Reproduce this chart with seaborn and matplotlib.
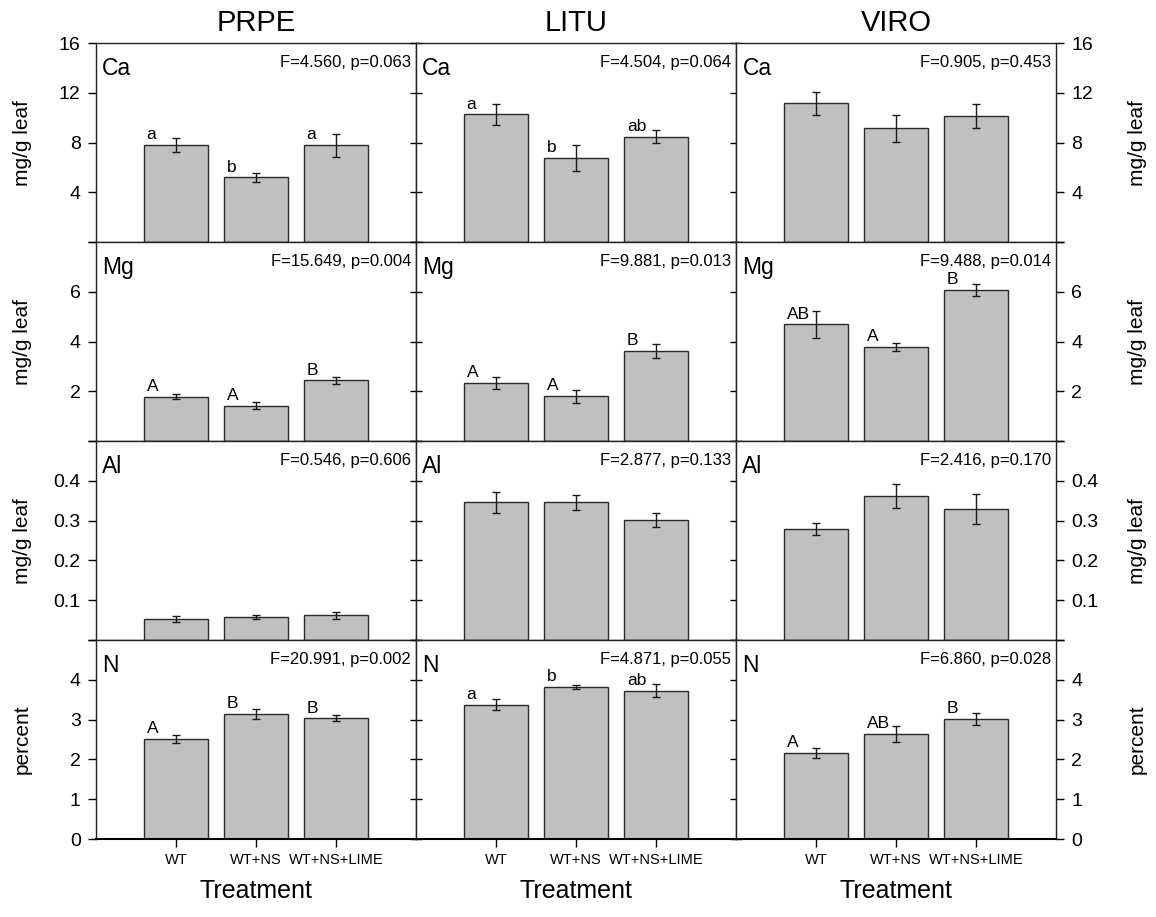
import numpy as np
import pandas as pd
import matplotlib
matplotlib.use("Agg")
import matplotlib.pyplot as plt
import seaborn as sns

sns.set_style("ticks")
plt.rcParams["font.family"] = ["Liberation Sans", "DejaVu Sans"]
plt.rcParams["text.color"] = "black"
plt.rcParams["axes.labelcolor"] = "black"
plt.rcParams["xtick.color"] = "black"
plt.rcParams["ytick.color"] = "black"

# --- data ---
species = ["PRPE", "LITU", "VIRO"]
treatments = ["WT", "WT+NS", "WT+NS+LIME"]
elements = ["Ca", "Mg", "Al", "N"]
units = ["mg/g leaf", "mg/g leaf", "mg/g leaf", "percent"]

ca_mean = [[7.80, 5.20, 7.80], [10.26, 6.76, 8.48], [11.15, 9.14, 10.13]]
ca_se = [[0.55, 0.36, 0.92], [0.83, 1.03, 0.52], [0.91, 1.06, 0.96]]
mg_mean = [[1.79, 1.43, 2.44], [2.34, 1.81, 3.64], [4.69, 3.80, 6.09]]
mg_se = [[0.11, 0.15, 0.13], [0.23, 0.26, 0.28], [0.53, 0.16, 0.24]]
al_mean = [[0.053, 0.058, 0.062], [0.346, 0.346, 0.302], [0.279, 0.361, 0.330]]
al_se = [[0.0067, 0.006, 0.009], [0.0255, 0.019, 0.017], [0.0146, 0.030, 0.038]]
n_mean = [[2.51, 3.14, 3.03], [3.38, 3.82, 3.73], [2.17, 2.64, 3.02]]
n_se = [[0.10, 0.13, 0.075], [0.14, 0.04, 0.16], [0.13, 0.19, 0.15]]

ca_stats = ["F=4.560, p=0.063", "F=4.504, p=0.064", "F=0.905, p=0.453"]
mg_stats = ["F=15.649, p=0.004", "F=9.881, p=0.013", "F=9.488, p=0.014"]
al_stats = ["F=0.546, p=0.606", "F=2.877, p=0.133", "F=2.416, p=0.170"]
n_stats = ["F=20.991, p=0.002", "F=4.871, p=0.055", "F=6.860, p=0.028"]

ca_letters = [["a", "b", "a"], ["a", "b", "ab"], ["", "", ""]]
mg_letters = [["A", "A", "B"], ["A", "A", "B"], ["AB", "A", "B"]]
al_letters = [["", "", ""], ["", "", ""], ["", "", ""]]
n_letters = [["A", "B", "B"], ["a", "b", "ab"], ["A", "AB", "B"]]

y_max = [16, 8, 0.5, 5]
y_ticks = [[0, 4, 8, 12, 16], [0, 2, 4, 6, 8],
           [0, 0.1, 0.2, 0.3, 0.4, 0.5], [0, 1, 2, 3, 4, 5]]
y_ticklabels = [["", "4", "8", "12", "16"], ["", "2", "4", "6", ""],
                ["", "0.1", "0.2", "0.3", "0.4", ""], ["0", "1", "2", "3", "4", ""]]

means = [ca_mean, mg_mean, al_mean, n_mean]
ses = [ca_se, mg_se, al_se, n_se]
stats = [ca_stats, mg_stats, al_stats, n_stats]
letters = [ca_letters, mg_letters, al_letters, n_letters]

BAR = "#c0c0c0"
EDGE = "#2a2a2a"

fig, axes = plt.subplots(4, 3, figsize=(11.56, 9.17), dpi=100)
fig.subplots_adjust(left=0.083, right=0.9135, top=0.953, bottom=0.085,
                    wspace=0, hspace=0)

for r in range(4):
    for c in range(3):
        ax = axes[r, c]
        df = pd.DataFrame({"Treatment": treatments, "value": means[r][c]})
        sns.barplot(data=df, x="Treatment", y="value", order=treatments,
                    color=BAR, edgecolor=EDGE, linewidth=1.0, width=0.8,
                    errorbar=None, saturation=1, ax=ax)
        ax.errorbar(x=np.arange(3), y=means[r][c], yerr=ses[r][c], fmt="none",
                    ecolor="#1a1a1a", elinewidth=1.0, capsize=3, capthick=1.0)
        ax.set_xlim(-1, 3)
        ax.set_ylim(0, y_max[r])
        ax.set_yticks(y_ticks[r])
        for s in ax.spines.values():
            s.set_visible(True)
            s.set_color("#222222")
            s.set_linewidth(1.0)
        if r == 3:
            ax.spines["bottom"].set_color("black")
            ax.spines["bottom"].set_linewidth(1.5)

        # bar letters
        for i, lab in enumerate(letters[r][c]):
            if lab:
                ax.annotate(lab, (i - 0.4, means[r][c][i]), xytext=(2, 2),
                            textcoords="offset points", ha="left", va="bottom",
                            fontsize=12.5)

        ax.text(0.02, 0.84, elements[r], transform=ax.transAxes,
                fontsize=16.5, ha="left", va="baseline")
        ax.text(0.985, 0.88, stats[r][c], transform=ax.transAxes,
                fontsize=12, ha="right", va="baseline")

        # y axis styling per column
        if c == 0:
            ax.tick_params(axis="y", direction="out", left=True, right=False,
                           length=6, width=1, labelsize=14, pad=5)
            ax.set_yticklabels(y_ticklabels[r])
            ax.set_ylabel(units[r], fontsize=15)
            ax.yaxis.set_label_coords(-0.20, 0.5)
        elif c == 1:
            ax.tick_params(axis="y", direction="inout", left=True, right=True,
                           labelleft=False, labelright=False, length=9, width=1)
            ax.set_ylabel("")
        else:
            ax.yaxis.tick_right()
            ax.tick_params(axis="y", direction="out", left=False, right=True,
                           length=6, width=1, labelsize=14, pad=5)
            ax.set_yticklabels(y_ticklabels[r])
            ax.yaxis.set_label_position("right")
            ax.set_ylabel(units[r], fontsize=15)
            ax.yaxis.set_label_coords(1.225, 0.5)

        # x axis
        if r == 3:
            ax.tick_params(axis="x", direction="out", length=6, width=1,
                           labelsize=10.5, pad=4)
            ax.set_xlabel("Treatment", fontsize=18, labelpad=9)
        else:
            ax.tick_params(axis="x", bottom=False, labelbottom=False)
            ax.set_xlabel("")

        if r == 0:
            ax.set_title(species[c], fontsize=21, pad=9)

fig.savefig("out.png", dpi=100)
